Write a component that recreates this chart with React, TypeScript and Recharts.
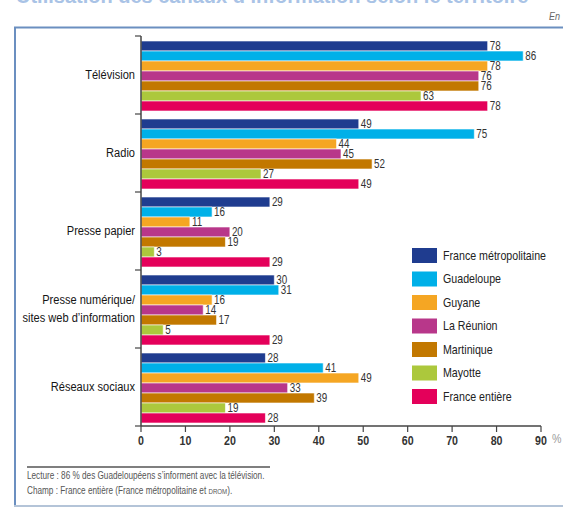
import React from 'react';
import { BarChart, Bar, XAxis, YAxis, LabelList } from 'recharts';

const categories = ['Télévision', 'Radio', 'Presse papier', 'Presse numérique/\nsites web d\u2019information', 'Réseaux sociaux'];
const metropole = [78, 49, 29, 30, 28];
const guadeloupe = [86, 75, 16, 31, 41];
const guyane = [78, 44, 11, 16, 49];
const reunion = [76, 45, 20, 14, 33];
const martinique = [76, 52, 19, 17, 39];
const mayotte = [63, 27, 3, 5, 19];
const franceEntiere = [78, 49, 29, 29, 28];
const xTicks = [0, 10, 20, 30, 40, 50, 60, 70, 80, 90];

const series = [
  { key: 'metropole', name: 'France métropolitaine', values: metropole, color: '#1f3c8f' },
  { key: 'guadeloupe', name: 'Guadeloupe', values: guadeloupe, color: '#00b0e8' },
  { key: 'guyane', name: 'Guyane', values: guyane, color: '#f5a623' },
  { key: 'reunion', name: 'La Réunion', values: reunion, color: '#b8378a' },
  { key: 'martinique', name: 'Martinique', values: martinique, color: '#c27800' },
  { key: 'mayotte', name: 'Mayotte', values: mayotte, color: '#acc83c' },
  { key: 'france', name: 'France entière', values: franceEntiere, color: '#e4005a' },
];

const data = categories.map((c, i) => {
  const row: any = { category: c };
  series.forEach((s) => { row[s.key] = s.values[i]; });
  return row;
});

const W = 563;
const H = 508;
const M = { top: 36, right: 22, bottom: 52, left: 0 };
const Y_W = 141;
const X_H = 30;
const PLOT_H = H - M.top - M.bottom - X_H;
const BAND = PLOT_H / categories.length;
const FONT = "'Liberation Sans', Arial, sans-serif";
const SX = 0.82;

const CT = (p: any) => {
  const { x, y, anchor = 'start', size = 12, fill = '#222', weight = 'normal', style = 'normal', children } = p;
  return (
    <text
      transform={`translate(${x},${y}) scale(${SX},1)`}
      x={0}
      y={0}
      textAnchor={anchor}
      dominantBaseline="central"
      fontFamily={FONT}
      fontSize={size}
      fontWeight={weight}
      fontStyle={style}
      fill={fill}
    >
      {children}
    </text>
  );
};

const CatTick = (props: any) => {
  const { x, y, payload, index, visibleTicksCount } = props;
  const lines = String(payload.value).split('\n');
  const lh = 18;
  const start = y - ((lines.length - 1) * lh) / 2;
  return (
    <g>
      <line x1={x} x2={x + 6} y1={y - BAND / 2} y2={y - BAND / 2} stroke="#444" strokeWidth={1.2} />
      {index === visibleTicksCount - 1 && (
        <line x1={x} x2={x + 6} y1={y + BAND / 2} y2={y + BAND / 2} stroke="#444" strokeWidth={1.2} />
      )}
      {lines.map((l, i) => (
        <CT key={i} x={x} y={start + i * lh} anchor="end" size={13.5} fill="#151515">{l}</CT>
      ))}
    </g>
  );
};

const XTick = (props: any) => {
  const { x, y, payload } = props;
  return <CT x={x} y={y + 7} anchor="middle" size={13} fill="#333" weight="bold">{payload.value}</CT>;
};

const ValueLabel = (props: any) => {
  const { x, y, width, height, value } = props;
  return <CT x={x + width + 2} y={y + height / 2 - 0.5} size={12} fill="#333">{value}</CT>;
};

export default function App() {
  return (
    <div style={{ position: 'absolute', left: 0, top: 0, width: W, height: H, background: '#fff' }}>
      <BarChart
        width={W}
        height={H}
        data={data}
        layout="vertical"
        margin={M}
        barCategoryGap={5}
        barGap={0}
      >
        <XAxis
          type="number"
          domain={[0, 90]}
          ticks={xTicks}
          height={X_H}
          axisLine={{ stroke: '#444', strokeWidth: 1.5 }}
          tickLine={{ stroke: '#444', strokeWidth: 1.2 }}
          tickSize={6}
          tick={<XTick />}
        />
        <YAxis
          type="category"
          dataKey="category"
          width={Y_W}
          axisLine={{ stroke: '#444', strokeWidth: 1.5 }}
          tickLine={false}
          tickSize={6}
          tickMargin={0}
          interval={0}
          tick={<CatTick />}
        />
        {series.map((s) => (
          <Bar key={s.key} dataKey={s.key} name={s.name} fill={s.color} stroke="#fff" strokeWidth={0.6} isAnimationActive={false}>
            <LabelList dataKey={s.key} content={<ValueLabel />} />
          </Bar>
        ))}
      </BarChart>
      <svg width={W} height={H} style={{ position: 'absolute', left: 0, top: 0, pointerEvents: 'none' }}>
        <text x={16} y={3} fontFamily={FONT} fontSize={20} fontWeight="bold" fill="#a9c3e6">
          Utilisation des canaux d’information selon le territoire
        </text>
        <CT x={560} y={16} anchor="end" size={11} style="italic" fill="#666">En</CT>
        <line x1={14} x2={W} y1={27.5} y2={27.5} stroke="#6b8fc0" strokeWidth={2} />
        <line x1={15} x2={15} y1={27} y2={506} stroke="#6b8fc0" strokeWidth={2} />
        <line x1={14} x2={W} y1={506} y2={506} stroke="#b4c4d8" strokeWidth={2} />
        <CT x={552} y={439} size={13} fill="#999">%</CT>
        {series.map((s, i) => (
          <g key={s.key}>
            <rect x={412} y={248 + i * 23.5} width={25} height={15} fill={s.color} />
            <CT x={443} y={255.5 + i * 23.5} size={13} fill="#222">{s.name}</CT>
          </g>
        ))}
        <line x1={27} x2={270} y1={467} y2={467} stroke="#555" strokeWidth={1.5} />
        <CT x={27} y={476} size={10} fill="#555">
          Lecture : 86 % des Guadeloupéens s’informent avec la télévision.
        </CT>
        <CT x={27} y={491} size={10} fill="#555">
          Champ : France entière (France métropolitaine et <tspan fontSize={7.5}>DROM</tspan>).
        </CT>
      </svg>
    </div>
  );
}
